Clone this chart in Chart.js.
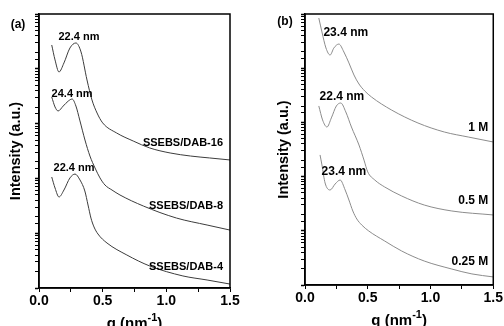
<!DOCTYPE html>
<html>
<head>
<meta charset="utf-8">
<script src="https://cdn.jsdelivr.net/npm/chart.js@4"></script>
<style>
  body { margin: 0; background: #fff; }
  #wrap { position: relative; width: 504px; height: 326px; }
  canvas { position: absolute; top: 0; }
</style>
</head>
<body>
<div id="wrap">
  <canvas id="panel-a" width="252" height="326" style="left:0"></canvas>
  <canvas id="panel-b" width="252" height="326" style="left:252px"></canvas>
</div>
<script>
// panel (a): SSEBS/DAB samples
const qA16 = [0.10, 0.126, 0.157, 0.196, 0.243, 0.29, 0.33, 0.377, 0.416, 0.456, 0.50, 0.61, 0.74, 0.87, 1.03, 1.19, 1.34, 1.5];
const iA16 = [27200, 14500, 8750, 12800, 24000, 29600, 20300, 6250, 2700, 1560, 1030, 673, 481, 359, 291, 256, 236, 217];
const qA8 = [0.10, 0.126, 0.15, 0.19, 0.23, 0.26, 0.29, 0.32, 0.361, 0.40, 0.44, 0.479, 0.518, 0.573, 0.636, 0.82, 1.08, 1.32, 1.5];
const iA8 = [3060, 2010, 1700, 2090, 2580, 2810, 2090, 1160, 502, 256, 155, 102, 75.8, 61.4, 49.8, 31.3, 18.9, 14.1, 11.4];
const qA4 = [0.10, 0.126, 0.157, 0.196, 0.243, 0.283, 0.322, 0.36, 0.385, 0.408, 0.432, 0.463, 0.534, 0.69, 0.87, 1.13, 1.32, 1.5];
const iA4 = [106, 66.8, 45.8, 61.4, 102, 120, 93.5, 58.9, 32.7, 18.9, 13.0, 9.67, 6.62, 4.0, 2.52, 1.66, 1.40, 1.18];

// panel (b): concentrations
const qB1 = [0.11, 0.135, 0.167, 0.20, 0.23, 0.27, 0.31, 0.35, 0.39, 0.43, 0.476, 0.53, 0.69, 0.90, 1.11, 1.30, 1.5];
const iB1 = [84300, 46600, 23600, 17500, 23600, 27900, 19900, 12500, 7500, 5110, 3800, 2940, 1690, 975, 665, 538, 435];
const qB05 = [0.11, 0.14, 0.175, 0.21, 0.25, 0.285, 0.325, 0.37, 0.43, 0.47, 0.50, 0.556, 0.635, 0.77, 0.95, 1.17, 1.5];
const iB05 = [2010, 1110, 822, 1210, 2010, 2280, 1560, 822, 383, 202, 122, 86.5, 64.3, 43.9, 29.9, 23.2, 19.6];
const qB025 = [0.12, 0.135, 0.16, 0.20, 0.24, 0.28, 0.32, 0.35, 0.381, 0.413, 0.452, 0.508, 0.635, 0.77, 0.95, 1.17, 1.33, 1.5];
const iB025 = [251, 164, 76.2, 56.6, 73.0, 86.5, 56.6, 37.0, 23.2, 16.5, 12.8, 9.91, 6.48, 4.24, 2.77, 1.97, 1.60, 1.41];

// text labels: [text, q, intensity]
const peakLabelsA = [['22.4 nm', 0.314, 38000], ['24.4 nm', 0.26, 3470], ['22.4 nm', 0.275, 155]];
const seriesLabelsA = [['SSEBS/DAB-16', 1.445, 443], ['SSEBS/DAB-8', 1.445, 31.3], ['SSEBS/DAB-4', 1.445, 2.42]];
const peakLabelsB = [['23.4 nm', 0.325, 44700], ['22.4 nm', 0.294, 2940], ['23.4 nm', 0.31, 122]];
const seriesLabelsB = [['1 M', 1.46, 789], ['0.5 M', 1.46, 35.5], ['0.25 M', 1.46, 2.66]];

const FONT = '"Liberation Sans", Arial, sans-serif';

const toPoints = (qs, vals) => qs.map((q, i) => ({ x: q, y: vals[i] }));

const panelPlugin = {
  id: 'panel',
  afterDraw(chart, args, opts) {
    const { ctx, chartArea: a, scales } = chart;
    ctx.save();
    // frame
    ctx.strokeStyle = '#000';
    ctx.lineWidth = 1.5;
    ctx.strokeRect(a.left, a.top, a.right - a.left, a.bottom - a.top);

    ctx.fillStyle = '#000';
    // panel tag
    ctx.font = 'bold 12px ' + FONT;
    ctx.textAlign = 'center';
    ctx.textBaseline = 'middle';
    ctx.fillText(opts.tag, opts.tagX, opts.tagY);

    // y title
    ctx.save();
    ctx.translate(opts.yTitleX, (a.top + a.bottom) / 2);
    ctx.rotate(-Math.PI / 2);
    ctx.font = 'bold 14.5px ' + FONT;
    ctx.fillText('Intensity (a.u.)', 0, 0);
    ctx.restore();

    // x title with superscript
    const cx = (a.left + a.right) / 2;
    ctx.textBaseline = 'alphabetic';
    ctx.textAlign = 'left';
    ctx.font = 'bold 15px ' + FONT;
    const main = 'q (nm';
    const wMain = ctx.measureText(main).width;
    ctx.font = 'bold 11px ' + FONT;
    const wSup = ctx.measureText('-1').width;
    ctx.font = 'bold 15px ' + FONT;
    const wEnd = ctx.measureText(')').width;
    const x0 = cx - (wMain + wSup + wEnd) / 2;
    ctx.fillText(main, x0, opts.xTitleY);
    ctx.font = 'bold 11px ' + FONT;
    ctx.fillText('-1', x0 + wMain, opts.xTitleY - 7);
    ctx.font = 'bold 15px ' + FONT;
    ctx.fillText(')', x0 + wMain + wSup, opts.xTitleY);

    // annotations
    ctx.font = 'bold ' + opts.noteSize + 'px ' + FONT;
    ctx.textBaseline = 'middle';
    ctx.textAlign = 'center';
    opts.peaks.forEach(([t, q, v]) => {
      ctx.fillText(t, scales.x.getPixelForValue(q), scales.y.getPixelForValue(v));
    });
    ctx.textAlign = 'right';
    opts.series.forEach(([t, q, v]) => {
      ctx.fillText(t, scales.x.getPixelForValue(q), scales.y.getPixelForValue(v));
    });
    ctx.restore();
  }
};

function makePanel(id, sets, color, geom, panelOpts) {
  new Chart(document.getElementById(id), {
    type: 'line',
    data: {
      datasets: sets.map(([qs, vals]) => ({
        data: toPoints(qs, vals),
        borderColor: color,
        borderWidth: 1,
        pointRadius: 0,
        cubicInterpolationMode: 'monotone'
      }))
    },
    options: {
      responsive: false,
      animation: false,
      devicePixelRatio: 1,
      layout: { padding: { left: 0, top: geom.top, right: geom.right, bottom: 0 } },
      scales: {
        x: {
          type: 'linear', min: 0, max: 1.5,
          afterFit(s) { s.height = geom.xHeight; },
          border: { color: '#000', width: 1.5 },
          grid: { drawOnChartArea: false, tickLength: 4, tickColor: '#000' },
          ticks: {
            stepSize: 0.25, autoSkip: false, maxRotation: 0, padding: 1, color: '#000',
            font: { family: FONT, weight: 'bold', size: 14 },
            callback: v => (Math.abs(v * 2 - Math.round(v * 2)) < 1e-9 ? v.toFixed(1) : '')
          }
        },
        y: {
          type: 'logarithmic', min: 1, max: 1e5,
          afterFit(s) { s.width = geom.yWidth; },
          border: { color: '#000', width: 1.5 },
          grid: {
            drawOnChartArea: false, tickLength: 4, tickColor: '#000',
            tickWidth: c => (c.tick && c.tick.major ? 1.5 : 1)
          },
          ticks: { autoSkip: false, major: { enabled: true }, padding: 0, callback: () => '' }
        }
      },
      plugins: {
        legend: { display: false },
        tooltip: { enabled: false },
        panel: panelOpts
      }
    },
    plugins: [panelPlugin]
  });
}

makePanel('panel-a', [[qA16, iA16], [qA8, iA8], [qA4, iA4]], '#3c3c3c',
  { top: 14, right: 22, xHeight: 38, yWidth: 39 },
  { tag: '(a)', tagX: 18, tagY: 25, yTitleX: 16, xTitleY: 328, noteSize: 11,
    peaks: peakLabelsA, series: seriesLabelsA });

makePanel('panel-b', [[qB1, iB1], [qB05, iB05], [qB025, iB025]], '#8c8c8c',
  { top: 14, right: 10, xHeight: 41, yWidth: 53 },
  { tag: '(b)', tagX: 33, tagY: 22, yTitleX: 32, xTitleY: 325, noteSize: 12,
    peaks: peakLabelsB, series: seriesLabelsB });
</script>
</body>
</html>
